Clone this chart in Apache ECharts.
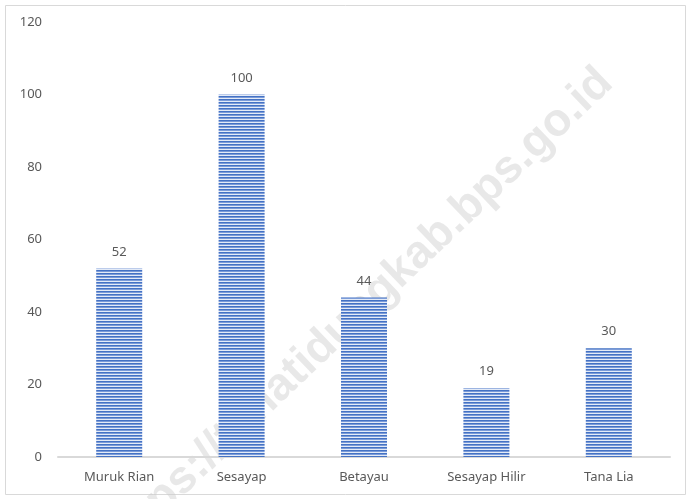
<!DOCTYPE html>
<html><head><meta charset="utf-8">
<script src="https://cdn.jsdelivr.net/npm/echarts@6/dist/echarts.min.js"></script>
<style>html,body{margin:0;padding:0;background:#fff}#c{width:691px;height:499px}</style>
</head><body><div id="c"></div>
<script>
const categories = ['Muruk Rian', 'Sesayap', 'Betayau', 'Sesayap Hilir', 'Tana Lia'];
const values = [52, 100, 44, 19, 30];
const yTicks = {min: 0, max: 120, interval: 20};

const cv = document.createElement('canvas');
cv.width = 4; cv.height = 3;
const cx = cv.getContext('2d');
cx.fillStyle = '#4472c4'; cx.fillRect(0, 0, 4, 1);
cx.fillStyle = '#7b9bd8'; cx.fillRect(0, 1, 4, 1);
cx.fillStyle = '#e4ebf7'; cx.fillRect(0, 2, 4, 1);

const chart = echarts.init(document.getElementById('c'));
const font = '"Noto Sans", "Open Sans", sans-serif';
chart.setOption({
  animation: false,
  backgroundColor: '#fff',
  grid: {left: 58, right: 21, top: 22, bottom: 42, containLabel: false},
  graphic: [
    {type: 'rect', shape: {x: 5.5, y: 5.5, width: 680, height: 489}, style: {fill: 'none', stroke: '#d9d9d9', lineWidth: 1}, z: -10},
    {type: 'text', x: 358, y: 312, rotation: 43.6 * Math.PI / 180, z: -5,
     style: {text: 'https://tanatidungkab.bps.go.id', font: 'bold 46px "Liberation Sans", Arial, sans-serif', fill: 'rgba(205,205,205,0.45)', align: 'center', verticalAlign: 'middle'}}
  ],
  xAxis: {
    type: 'category', data: categories,
    axisLine: {lineStyle: {color: '#d9d9d9', width: 2}},
    axisTick: {show: false},
    axisLabel: {color: '#595959', fontSize: 13, fontFamily: font, margin: 14}
  },
  yAxis: {
    type: 'value', min: yTicks.min, max: yTicks.max, interval: yTicks.interval,
    axisLine: {show: false}, axisTick: {show: false}, splitLine: {show: false},
    axisLabel: {color: '#595959', fontSize: 13, fontFamily: font, margin: 16}
  },
  series: [{
    type: 'bar', data: values, barWidth: 46,
    itemStyle: {color: {image: cv, repeat: 'repeat'}},
    label: {show: true, position: 'top', distance: 10, color: '#595959', fontSize: 13, fontFamily: font}
  }]
});
</script></body></html>
